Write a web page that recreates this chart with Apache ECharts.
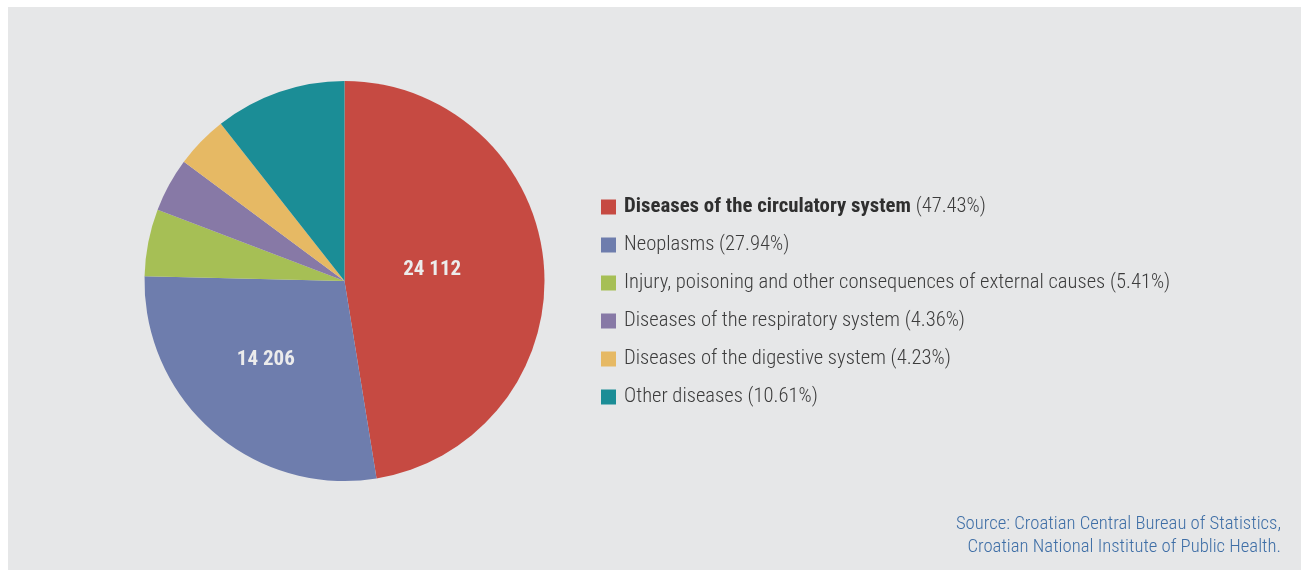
<!DOCTYPE html>
<html>
<head>
<meta charset="utf-8">
<script src="https://cdn.jsdelivr.net/npm/echarts@6/dist/echarts.min.js"></script>
<style>
html,body{margin:0;padding:0;background:#fff;}
#c{position:absolute;left:8px;top:7px;width:1293px;height:563px;background:#e6e7e8;}
</style>
</head>
<body>
<div id="c"></div>
<script>
var categories = [
  'Diseases of the circulatory system',
  'Neoplasms',
  'Injury, poisoning and other consequences of external causes',
  'Diseases of the respiratory system',
  'Diseases of the digestive system',
  'Other diseases'
];
var values = [24112, 14206, 2750, 2217, 2150, 5394];
var percents = ['47.43%', '27.94%', '5.41%', '4.36%', '4.23%', '10.61%'];
var shownLabels = ['24 112', '14 206', '', '', '', ''];
var colors = ['#c64a42', '#6e7dad', '#a6bf55', '#8779a6', '#e6b964', '#1b8d96'];
var sourceLines = ['Source: Croatian Central Bureau of Statistics,', 'Croatian National Institute of Public Health.'];

var FONT = "'Roboto Condensed', 'Liberation Sans Narrow', Roboto, sans-serif";
var labelOffsets = [[-15, -3], [-11, 1], [0, 0], [0, 0], [0, 0], [0, 0]];
var chart = echarts.init(document.getElementById('c'), null, {renderer: 'canvas'});
var data = categories.map(function (c, i) {
  return {name: c, value: values[i], itemStyle: {color: colors[i]}, label: {offset: labelOffsets[i]}};
});
chart.setOption({
  backgroundColor: '#e6e7e8',
  animation: false,
  legend: {
    orient: 'vertical',
    left: 588,
    top: 184,
    itemWidth: 15,
    itemHeight: 15,
    itemGap: 16,
    icon: 'rect',
    selectedMode: false,
    textStyle: {
      fontFamily: FONT, fontSize: 20.6, color: '#3c3c3c', lineHeight: 22, padding: [0, 0, 0, 3],
      rich: {
        b: {fontFamily: FONT, fontSize: 20.8, fontWeight: 'bold', color: '#2f2f2f', lineHeight: 22},
        n: {fontFamily: FONT, fontSize: 20.6, fontWeight: 300, color: '#3c3c3c', lineHeight: 22}
      }
    },
    formatter: function (name) {
      var i = categories.indexOf(name);
      if (i === 0) return '{b|' + name + '} {n|(' + percents[i] + ')}';
      return '{n|' + name + ' (' + percents[i] + ')}';
    },
    data: categories
  },
  graphic: sourceLines.map(function (t, i) {
    return {
      type: 'text',
      right: 20,
      top: 508 + i * 23,
      style: {text: t, fontFamily: FONT, fontSize: 18.7, fontWeight: 300, fill: '#3e6ea6'}
    };
  }),
  series: [{
    type: 'pie',
    center: [336.5, 274],
    radius: [0, 200],
    startAngle: 90,
    clockwise: true,
    data: data,
    itemStyle: {borderWidth: 0},
    label: {
      show: true,
      position: 'inside',
      formatter: function (p) { return shownLabels[p.dataIndex]; },
      color: '#ececec',
      fontFamily: FONT,
      fontSize: 21,
      fontWeight: 'bold'
    },
    labelLine: {show: false},
    emphasis: {disabled: true}
  }]
});
</script>
</body>
</html>
